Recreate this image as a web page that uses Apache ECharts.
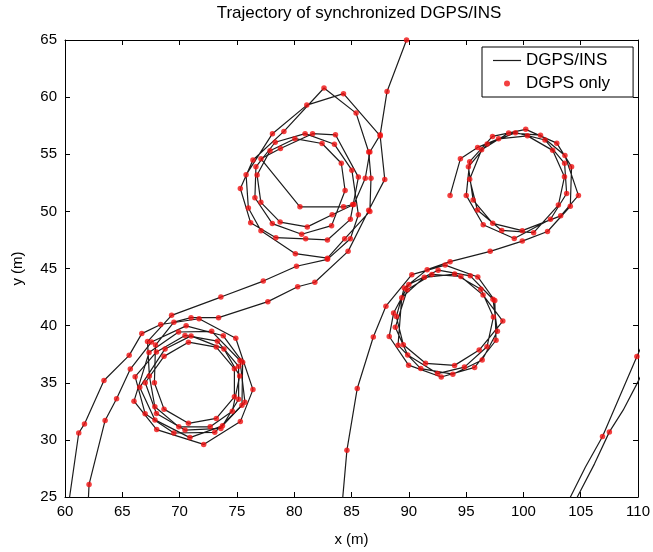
<!DOCTYPE html>
<html>
<head>
<meta charset="utf-8">
<script src="https://cdn.jsdelivr.net/npm/echarts@6/dist/echarts.min.js"></script>
<style>
html,body{margin:0;padding:0;background:#fff;}
#chart{width:653px;height:552px;}
</style>
</head>
<body>
<div id="chart"></div>
<script>
// Axis ticks
const xTicks = [60, 110, 5];
const yTicks = [25, 65, 5];

// Run 1: enters bottom-left, loops around first circle, loops second circle, exits top
const pathA = [
  [60.26,24.0],[61.2,30.6],[61.7,31.4],[63.4,35.2],[65.6,37.4],[66.7,39.3],[68.35,40.1],
  [71.7,40.6],[74.9,38.9],[76.4,34.4],[75.3,31.6],[72.1,29.6],[68.0,30.9],[66.02,33.39],
  [67.33,37.64],[69.91,39.44],[72.8,39.5],[75.27,36.95],[75.7,33.3],[73.74,31.23],[70.9,30.2],[67.85,31.75],[66.52,34.60],
  [68.73,37.96],[71.0,39.1],[73.87,37.96],[75.24,35.60],[74.6,32.5],[72.67,31.14],[69.93,31.14],[67.84,32.9],[67.36,35.60],
  [67.2,38.6],[69.3,40.9],[73.6,42.5],[77.3,43.9],[80.2,45.2],[82.9,45.8],[84.9,47.6],[85.6,49.7],
  [85.03,53.61],[83.51,55.87],[80.95,56.80],[78.34,56.05],[76.66,53.90],[76.57,51.19],[78.09,48.93],[80.65,48.00],[83.26,48.75],
  [84.44,51.82],[84.11,54.21],[82.43,55.94],[80.06,56.36],[77.89,55.30],[76.76,53.18],[77.09,50.79],[78.77,49.06],[81.14,48.64],[83.31,49.70],
  [85.2,50.6],[86.2,52.9],[86.6,55.2],[87.5,56.7],[88.1,60.5],[89.8,65.0],[90.3,66.5]
];

// Run 2: second pass through the two left circles
const pathB = [
  [62.0,24.0],[62.1,26.1],[63.5,31.7],[64.5,33.6],[65.7,36.2],
  [67.54,38.56],[70.57,39.98],[73.81,39.11],[75.5,36.8],[75.44,33.03],[73.07,30.66],[69.5,30.6],[66.99,32.29],[66.12,35.53],
  [67.98,37.70],[70.47,39.14],[73.30,38.64],[75.15,36.44],[75.15,33.56],[73.6,31.0],[70.47,30.86],[67.98,32.30],[67.0,35.0],
  [68.64,37.31],[70.77,38.55],[73.2,38.12],[74.78,36.23],[74.78,33.77],[73.2,31.88],[70.77,31.45],[68.64,32.69],[67.8,35.0],
  [67.9,38.3],[69.5,40.3],[71.0,40.7],[73.4,40.7],[77.7,42.1],[80.3,43.4],[81.8,43.8],[84.7,46.5],[86.5,50.1],[87.9,52.8],
  [87.5,56.6],[84.3,60.3],[81.1,59.3],[78.1,56.8],[75.8,53.2],[76.0,50.3],[77.1,48.3],[80.1,46.3],[82.9,45.9],[84.4,47.6],
  [86.6,50.0],[86.7,52.9],[86.5,55.2],[85.4,58.6],[82.6,60.8],[79.1,57.0],[76.4,54.5],[75.3,52.0],[76.2,49.0],[78.4,47.7],
  [81.0,47.6],[82.9,47.5],[84.9,49.3],[85.6,53.0],[83.6,56.7],[81.6,56.8],[78.8,55.5],[77.1,54.6],[80.5,50.4],[84.3,50.4],[85.1,50.6]
];

// Run 3: enters bottom centre, loops third circle, moves to fourth circle
const pathC = [
  [84.15,24.0],[84.6,29.1],[85.5,34.5],[86.9,39.0],[88.0,41.7],
  [90.26,44.46],[93.17,45.30],[96.02,44.26],[97.5,42.2],[97.61,38.72],[95.74,36.34],[92.83,35.50],[89.98,36.54],[88.29,39.05],
  [88.67,41.10],[90.0,43.61],[92.56,44.85],[95.36,44.36],[97.34,42.31],[97.73,39.50],[96.40,36.99],[93.84,35.75],[91.04,36.24],[89.06,38.29],
  [89.38,42.45],[91.35,44.23],[94.00,44.51],[96.29,43.18],[97.38,40.75],[96.82,38.15],[94.85,36.37],[92.5,35.8],[89.90,37.42],[88.82,39.85],
  [89.86,43.14],[92.01,44.48],[94.54,44.30],[96.48,42.67],[98.2,40.4],[96.14,37.86],[93.99,36.52],[91.46,36.70],[89.52,38.33],[88.91,40.79],
  [89.6,43.3],[91.6,44.9],[93.6,45.6],[97.1,46.5],[99.9,47.4],
  [102.10,48.24],[104.09,50.45],[104.2,53.9],[102.91,55.97],[100.20,57.18],[97.30,56.56],[95.31,54.35],[95.01,51.40],[96.49,48.83],[99.20,47.62],
  [102.36,49.31],[103.77,51.56],[103.59,54.21],[101.88,56.25],[99.30,56.89],[96.84,55.89],[95.2,53.9],[95.61,50.99],[97.32,48.95],[99.90,48.31],
  [103.25,49.61],[104.8,51.4],[103.62,54.89],[101.49,56.67],[98.71,56.87],[96.35,55.39],[95.31,52.82],[95.98,50.12],[98.11,48.33],[100.89,48.14],
  [103.05,50.55],[103.58,53.03],[102.55,55.34],[100.35,56.61],[97.83,56.35],[96.0,55.6],[94.5,54.6],[93.6,51.4]
];

// Bottom-right passes (mostly INS only)
const pathE1 = [[103.65,24.0],[104.1,25.0],[105.4,27.6],[106.9,30.3],[108.4,33.8],[109.9,37.3],[110.4,38.4]];
const pathE2 = [[110.4,35.9],[109.9,34.9],[108.7,32.6],[107.5,30.7],[106.2,27.9],[104.7,25.0],[104.2,24.0]];
const dgpsExtra = [[106.9,30.3],[107.5,30.7],[109.9,37.3]];

const inside = p => p[0] >= 60 && p[0] <= 110 && p[1] >= 25 && p[1] <= 65;
const dgpsDots = pathA.concat(pathB, pathC).filter(inside).concat(dgpsExtra);

const FONT = 'Liberation Sans, Arial, Helvetica, sans-serif';
const lineStyle = {color: '#1c1c1c', width: 1.2};
const mkLine = d => ({
  name: 'DGPS/INS', type: 'line', data: d, symbol: 'none', clip: true,
  lineStyle: lineStyle, itemStyle: {color: '#1c1c1c'}, z: 2, animation: false
});

const axisCommon = {
  type: 'value',
  axisLine: {show: true, onZero: false, lineStyle: {color: '#000', width: 1}},
  axisTick: {show: true, inside: true, length: 5, lineStyle: {color: '#000'}},
  splitLine: {show: false}
};

const chart = echarts.init(document.getElementById('chart'), null, {renderer: 'canvas'});
chart.setOption({
  backgroundColor: '#fff',
  animation: false,
  title: {
    text: 'Trajectory of synchronized DGPS/INS',
    left: 354, top: 0, textAlign: 'center',
    textStyle: {fontFamily: FONT, fontSize: 17, fontWeight: 'normal', color: '#000'}
  },
  grid: {left: 65, right: 9, top: 40, bottom: 47, containLabel: false},
  legend: {
    orient: 'vertical', left: 482, top: 47,
    padding: [5, 23, 5, 11], itemGap: 6, itemWidth: 28, itemHeight: 6, itemTextGap: 11,
    borderColor: '#000', borderWidth: 1, backgroundColor: '#fff',
    textStyle: {fontFamily: FONT, fontSize: 17, color: '#000', lineHeight: 17},
    data: [
      {name: 'DGPS/INS', icon: 'path://M0,0L28,0L28,1.2L0,1.2Z', itemStyle: {color: '#1c1c1c'}},
      {name: 'DGPS only', icon: 'circle'}
    ]
  },
  xAxis: [
    Object.assign({}, axisCommon, {
      min: xTicks[0], max: xTicks[1], interval: xTicks[2], position: 'bottom',
      name: 'x (m)', nameLocation: 'middle', nameGap: 35,
      nameTextStyle: {fontFamily: FONT, fontSize: 15, color: '#000'},
      axisLabel: {color: '#000', fontFamily: FONT, fontSize: 15, margin: 7}
    }),
    Object.assign({}, axisCommon, {
      min: xTicks[0], max: xTicks[1], interval: xTicks[2], position: 'top',
      axisLabel: {show: false}
    })
  ],
  yAxis: [
    Object.assign({}, axisCommon, {
      min: yTicks[0], max: yTicks[1], interval: yTicks[2], position: 'left',
      name: 'y (m)', nameLocation: 'middle', nameGap: 40, nameRotate: 90,
      nameTextStyle: {fontFamily: FONT, fontSize: 15, color: '#000'},
      axisLabel: {color: '#000', fontFamily: FONT, fontSize: 15, margin: 8}
    }),
    Object.assign({}, axisCommon, {
      min: yTicks[0], max: yTicks[1], interval: yTicks[2], position: 'right',
      axisLabel: {show: false}
    })
  ],
  series: [
    mkLine(pathA), mkLine(pathB), mkLine(pathC), mkLine(pathE1), mkLine(pathE2),
    {
      name: 'DGPS only', type: 'scatter', data: dgpsDots, symbol: 'circle', symbolSize: 5.5,
      itemStyle: {color: '#f01010'}, z: 3, clip: true, animation: false
    }
  ]
});
</script>
</body>
</html>
